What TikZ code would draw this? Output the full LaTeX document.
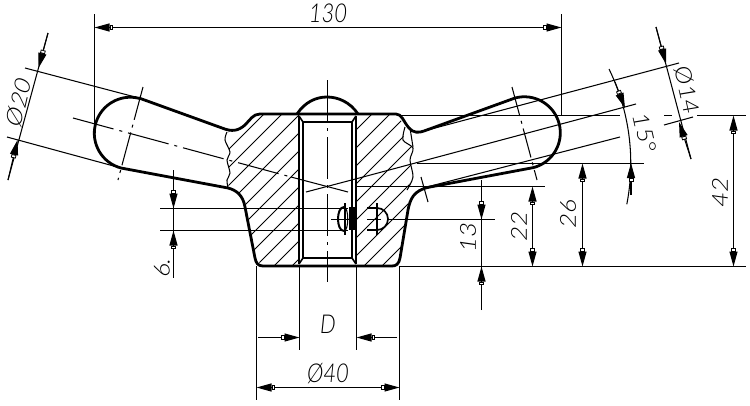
\documentclass[tikz,border=0pt]{standalone}
\usepackage{fontspec}
\setmainfont{Lato Light}[ItalicFont={Lato Light Italic}]
\usetikzlibrary{arrows.meta}
\tikzset{
  thin line/.style={line width=1.05pt,black},
  thick line/.style={line width=2.8pt,black,line join=round},
  hatchline/.style={line width=1pt,black},
  centre line/.style={line width=1.05pt,black,dash pattern=on 42pt off 6pt on 3pt off 6pt},
  dimtip/.style={-{Square[open,fill=white,length=3.5pt,width=5pt,line width=0.8pt]Triangle[length=15pt,width=8pt]}},
  dimtips/.style={{Triangle[length=15pt,width=8pt]Square[open,fill=white,length=3.5pt,width=5pt,line width=0.8pt]}-{Square[open,fill=white,length=3.5pt,width=5pt,line width=0.8pt]Triangle[length=15pt,width=8pt]}},
  dimtext/.style={font=\fontsize{26}{28}\selectfont\itshape,inner sep=0pt,xscale=.85}
}
\begin{document}
\begin{tikzpicture}[x=1pt,y=-1pt]
\useasboundingbox (0,0) rectangle (750,405);
% hatching
\begin{scope}
\clip (229,131) -- (238,132) -- (247,128) -- (258,114) -- (299,114) -- (299,266) -- (263,266) -- (255,258) -- (245,207) -- (238,194) -- (228,188) -- (230,173) -- (227,160) -- (230,152) -- (225,140) -- cycle;
\foreach \c in {342,360,...,576} \draw[hatchline] (\c,0) -- (\c-300,300);
\end{scope}
\begin{scope}
\clip (356,114) -- (397,114) -- (405,127) -- (403,140) -- (413,148) -- (410,160) -- (413,177) -- (407,190) -- (408,205) -- (400,258) -- (392,266) -- (356,266) -- cycle;
\foreach \c in {468,486,...,684} \draw[hatchline] (\c,0) -- (\c-300,300);
\end{scope}
% break lines
\draw[thin line] plot[smooth] coordinates {(227,132) (225,140) (230,152) (227,160) (230,173) (227,180) (228,188)};
\draw[thin line] plot[smooth] coordinates {(405,127) (403,140) (413,148) (410,160) (413,177) (407,190)};
% axes
\draw[centre line] (327.5,80) -- (327.5,282);
\draw[centre line] (73,118) -- (291,177);
\draw[thin line] (291,177) -- (348,192);
\draw[thin line] (363,177) -- (306,192);
\draw[thin line] (636,104) -- (363,177);
\draw[centre line,dash pattern=on 34pt off 5pt on 3pt off 5pt] (143,87) -- (118,180);
\draw[centre line,dash pattern=on 30pt off 5pt on 3pt off 5pt] (512,87) -- (537,180);
\draw[thin line] (410,128) -- (413,147);
\draw[thin line] (421,177) -- (428,202);
% extension lines
\draw[thin line] (94.5,14) -- (94.5,130);
\draw[thin line] (561.5,14) -- (561.5,115);
\draw[thin line] (25,68) -- (139,98);
\draw[thin line] (7,137) -- (121,168);
\draw[thin line] (679,63) -- (420,132);
\draw[thin line] (620,137) -- (423,188);
\draw[thin line] (693,117) -- (664,125);
\draw[thin line] (400,115.5) -- (620,115.5) (664,115.5) -- (672,115.5) (697,115.5) -- (746,115.5);
\draw[thin line] (417,163.5) -- (644,163.5);
\draw[thin line] (357,186.5) -- (545,186.5);
\draw[thin line] (388,219.5) -- (495,219.5);
\draw[thin line] (400,266.5) -- (746,266.5);
\draw[thin line] (160,208.5) -- (348,208.5);
\draw[thin line] (160,230.5) -- (348,230.5);
\draw[thin line] (256.5,266) -- (256.5,400);
\draw[thin line] (399.5,266) -- (399.5,400);
\draw[thin line] (299.5,266) -- (299.5,350);
\draw[thin line] (356.5,266) -- (356.5,350);
% outline
\draw[thick line] (139,98) -- (222,128) .. controls (232,132) and (238,131) .. (245,125) .. controls (250,120) and (253,114) .. (260,114)
  -- (396,114) .. controls (402,114) and (403,121) .. (409,128) .. controls (413,133) and (419,133) .. (424,131)
  -- (515,98) arc[start angle=-105,end angle=75,radius=36]
  -- (430,187) .. controls (413,190) and (410,200) .. (408,210) -- (400,258) .. controls (399,264) and (396,266) .. (392,266)
  -- (263,266) .. controls (258,266) and (256,263) .. (255,258) -- (245,207) .. controls (243,195) and (236,190) .. (228,188)
  -- (121,168) arc[start angle=105,end angle=285,radius=36] -- cycle;
\draw[thick line] (297,114) .. controls (305,102) and (316,97) .. (327,97) .. controls (338,97) and (350,102) .. (358,114);
% bore
\draw[thick line] (299,116) -- (299,264) (356,116) -- (356,264);
\draw[thick line,line width=2.3pt] (303,122) -- (352,122) -- (352,258) -- (303,258) -- cycle;
\draw[thick line,line width=1.6pt] (299,116) -- (303,122) (356,116) -- (352,122) (299,264) -- (303,258) (356,264) -- (352,258);
% thread run-out details
\draw[thick line,line width=2pt] (344,207) .. controls (336,207) and (336,231) .. (344,231);
\draw[thin line] (344,207) .. controls (349,207) and (349,231) .. (344,231);
\fill[black] (349,207) rectangle (355,230);
\draw[thin line] (345,203) -- (345,235);
\draw[thin line] (331,219.5) -- (355,219.5);
\draw[line width=1.7pt] (367,208) -- (377,208) arc[start angle=-90,end angle=90,radius=11] -- (367,230);
\draw[thin line] (377,203) -- (377,235);
\draw[thin line] (367,219.5) -- (381,219.5);
% dimensions
\draw[thin line,dimtips] (94.5,27.5) -- (561.5,27.5);
\draw[thin line] (48,33) -- (8,180);
\draw[thin line,dimtip] (48,33) -- (38.5,68);
\draw[thin line,dimtip] (8,180) -- (17.5,140);
\draw[thin line] (656,27) -- (691,159);
\draw[thin line,dimtip] (656,27) -- (666,64);
\draw[thin line,dimtip] (691,159) -- (679,122);
\draw[thin line] (609,69) arc[start angle=-26,end angle=11,radius=215];
\draw[thin line,dimtip] (615,82) -- (625,108);
\draw[thin line,dimtip] (631,195) -- (631,163);
\draw[thin line,dimtips] (733.5,115.5) -- (733.5,266.5);
\draw[thin line,dimtips] (582.5,163.5) -- (582.5,266.5);
\draw[thin line,dimtips] (532.5,186.5) -- (532.5,266.5);
\draw[thin line] (481.5,180) -- (481.5,310);
\draw[thin line,dimtip] (481.5,180) -- (481.5,219.5);
\draw[thin line,dimtip] (481.5,310) -- (481.5,266.5);
\draw[thin line] (173.5,170) -- (173.5,278);
\draw[thin line,dimtip] (173.5,170) -- (173.5,208.5);
\draw[thin line,dimtip] (173.5,268) -- (173.5,230.5);
\draw[thin line,dimtip] (258,337.5) -- (299.5,337.5);
\draw[thin line,dimtip] (397,337.5) -- (356.5,337.5);
\draw[thin line,dimtips] (256.5,387.5) -- (399.5,387.5);
% labels
\node[dimtext] (l130) at (328,13) {130};
\node[dimtext,rotate=75] (l20) at (19,102) {Ø20};
\node[dimtext,rotate=-75] (l14) at (687,90) {Ø14};
\node[dimtext,rotate=-75] (l15) at (645,133) {15°};
\node[dimtext,rotate=90] (l42) at (720,192) {42};
\node[dimtext,rotate=90] (l26) at (568,214) {26};
\node[dimtext,rotate=90] (l22) at (519,226) {22};
\node[dimtext,rotate=90] (l13) at (468,237) {13};
\node[dimtext,rotate=90] (l6) at (162,268) {6.};
\node[dimtext] (lD) at (328,324) {D};
\node[dimtext] (l40) at (328,374) {Ø40};
\end{tikzpicture}
\end{document}
